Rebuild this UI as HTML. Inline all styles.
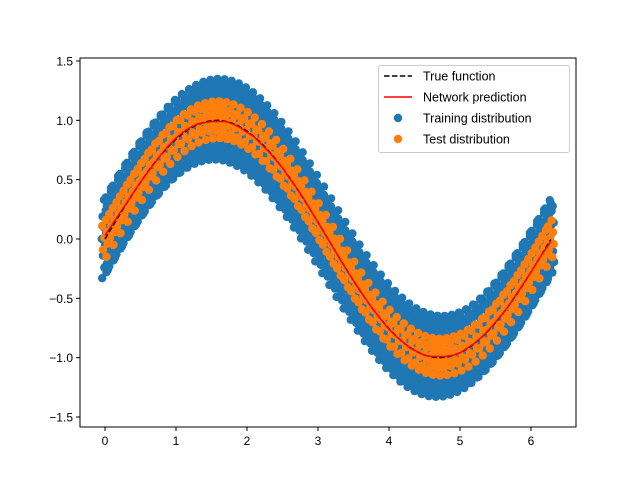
<!DOCTYPE html>
<html><head><meta charset="utf-8"><style>
html,body{margin:0;padding:0;background:#fff;}
svg{display:block;font-family:"Liberation Sans","DejaVu Sans",sans-serif;}
</style></head><body>
<svg id="chart" width="640" height="480" viewBox="0 0 640 480"></svg>
<script>
const xValues = [0,0.1,0.2,0.3,0.4,0.5,0.6,0.7,0.8,0.9,1.0,1.1,1.2,1.3,1.4,1.5,1.6,1.7,1.8,1.9,2.0,2.1,2.2,2.3,2.4,2.5,2.6,2.7,2.8,2.9,3.0,3.1,3.2,3.3,3.4,3.5,3.6,3.7,3.8,3.9,4.0,4.1,4.2,4.3,4.4,4.5,4.6,4.7,4.8,4.9,5.0,5.1,5.2,5.3,5.4,5.5,5.6,5.7,5.8,5.9,6.0,6.1,6.2,6.28];
const trueValues = [0,0.100,0.199,0.296,0.389,0.479,0.565,0.644,0.717,0.783,0.841,0.891,0.932,0.964,0.985,0.997,1.000,0.992,0.974,0.946,0.909,0.863,0.808,0.746,0.675,0.598,0.516,0.427,0.335,0.239,0.141,0.042,-0.058,-0.158,-0.256,-0.351,-0.443,-0.530,-0.612,-0.688,-0.757,-0.818,-0.872,-0.916,-0.952,-0.978,-0.994,-1.000,-0.996,-0.982,-0.959,-0.926,-0.883,-0.832,-0.773,-0.706,-0.631,-0.551,-0.465,-0.374,-0.279,-0.182,-0.083,-0.003];
const predValues = [0.03,0.12,0.21,0.30,0.39,0.48,0.56,0.64,0.72,0.79,0.85,0.90,0.94,0.97,0.98,0.99,0.99,0.99,0.97,0.94,0.90,0.86,0.80,0.74,0.67,0.60,0.51,0.43,0.34,0.24,0.14,0.04,-0.06,-0.16,-0.26,-0.35,-0.44,-0.53,-0.61,-0.69,-0.76,-0.82,-0.87,-0.92,-0.95,-0.98,-0.99,-0.99,-0.99,-0.98,-0.96,-0.92,-0.88,-0.83,-0.77,-0.70,-0.63,-0.55,-0.46,-0.37,-0.28,-0.18,-0.09,-0.02];
const trainOffsets = [-0.33,-0.28,-0.24,-0.19,-0.14,-0.10,-0.05,0,0.05,0.10,0.14,0.19,0.24,0.28,0.33];
const trainJitter = [-0.04,0.02,-0.01,0.045,-0.03,0.03,0,-0.045,0.015,-0.02,0.04,-0.035,0.01,0.025,-0.015];
const testOffsets = [-0.15,-0.09,-0.04,0.01,0.06,0.11,0.16];
const testJitter = [0.02,-0.03,0.04,-0.01,0.03,-0.04,0.01];
const xTicks = [0,1,2,3,4,5,6];
const yTicks = [-1.5,-1.0,-0.5,0.0,0.5,1.0,1.5];

const NS='http://www.w3.org/2000/svg';
const svg=document.getElementById('chart');
const L=80,R=576,T=58,B=427;
const X=v=>105+v*71;
const Y=v=>239-v*118.67;
function mk(tag,attrs,parent){const e=document.createElementNS(NS,tag);for(const k in attrs)e.setAttribute(k,attrs[k]);(parent||svg).appendChild(e);return e;}

function scatter(offs,jit,color,r,name,mids){
  const g=mk('g',{fill:color});
  
  
  for(let i=0;i<xValues.length;i++){
    for(let j=0;j<offs.length;j++){
      const c=mk('circle',{cx:X(xValues[i]+jit[j]).toFixed(1),cy:Y(trueValues[i]+offs[j]).toFixed(1),r:r},g);
      
      
      if(mids && i<xValues.length-1){
        const xm=(xValues[i]+xValues[i+1])/2, ym=(trueValues[i]+trueValues[i+1])/2;
        const c2=mk('circle',{cx:X(xm-jit[j]).toFixed(1),cy:Y(ym+offs[(j+3)%offs.length]+0.02).toFixed(1),r:r},g);
        
        
      }
    }
  }
}
scatter(trainOffsets,trainJitter,'#1f77b4',4.2,'training-distribution',true);
scatter(testOffsets,testJitter,'#ff7f0e',4.2,'test-distribution',false);

const tl=mk('polyline',{points:xValues.map((x,i)=>X(x).toFixed(1)+','+Y(trueValues[i]).toFixed(1)).join(' '),fill:'none',stroke:'#000','stroke-width':1.5,'stroke-dasharray':'5.5,2.4'});


const pl=mk('polyline',{points:xValues.map((x,i)=>X(x).toFixed(1)+','+Y(predValues[i]).toFixed(1)).join(' '),fill:'none',stroke:'#ff0000','stroke-width':1.5});



const frame=mk('rect',{x:L,y:T,width:R-L,height:B-T,fill:'none',stroke:'#000','stroke-width':1});



xTicks.forEach(v=>{
  const t=mk('line',{x1:X(v),x2:X(v),y1:B,y2:B+4,stroke:'#000'});
  
  
  const s=mk('text',{x:X(v),y:B+18,'text-anchor':'middle','font-size':12});
  s.textContent=v;
  
  
});
yTicks.forEach(v=>{
  const t=mk('line',{x1:L-4,x2:L,y1:Y(v),y2:Y(v),stroke:'#000'});
  
  
  const s=mk('text',{x:L-7,y:Y(v)+4.5,'text-anchor':'end','font-size':12});
  s.textContent=(v<0?'\u2212':'')+Math.abs(v).toFixed(1);
  
  
});

const lg=mk('g',{});


mk('rect',{x:378.5,y:65.5,width:191,height:87,rx:2,fill:'#fff','fill-opacity':0.8,stroke:'#ccc'},lg);
const entries=[['True function','dash'],['Network prediction','red'],['Training distribution','#1f77b4'],['Test distribution','#ff7f0e']];
entries.forEach((e,i)=>{
  const y=76+i*21;
  const g=mk('g',{},lg);
  
  
  if(e[1]==='dash') mk('line',{x1:384,x2:412,y1:y,y2:y,stroke:'#000','stroke-width':1.5,'stroke-dasharray':'5.5,2.4'},g);
  else if(e[1]==='red') mk('line',{x1:384,x2:412,y1:y,y2:y,stroke:'#ff0000','stroke-width':1.5},g);
  else mk('circle',{cx:398,cy:y,r:4.2,fill:e[1]},g);
  const s=mk('text',{x:423,y:y+4.5,'font-size':12.5},g);
  s.textContent=e[0];
});
</script>
</body></html>
